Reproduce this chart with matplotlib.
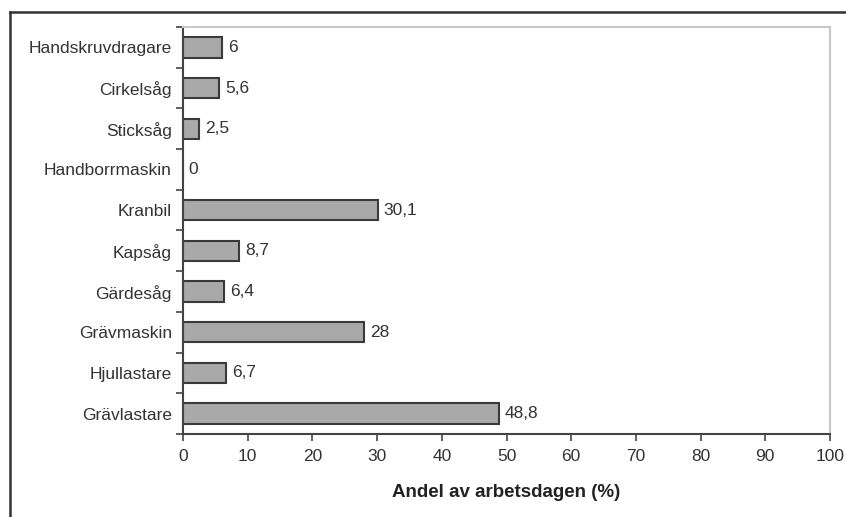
import matplotlib
matplotlib.use("Agg")
import matplotlib.pyplot as plt
from matplotlib.lines import Line2D
import numpy as np

categories = ["Handskruvdragare", "Cirkelsåg", "Sticksåg", "Handborrmaskin", "Kranbil",
              "Kapsåg", "Gärdesåg", "Grävmaskin", "Hjullastare", "Grävlastare"]
values = [6, 5.6, 2.5, 0, 30.1, 8.7, 6.4, 28, 6.7, 48.8]
value_labels = ["6", "5,6", "2,5", "0", "30,1", "8,7", "6,4", "28", "6,7", "48,8"]
xticks = [0, 10, 20, 30, 40, 50, 60, 70, 80, 90, 100]

plt.rcParams['font.family'] = ['Liberation Sans', 'DejaVu Sans']

fig = plt.figure(figsize=(8.46, 5.17), dpi=100)
ax = fig.add_axes([183/846, 1-434/517, (830-183)/846, (434-27)/517])

fs = 12.5
y = np.arange(len(categories))
ax.barh(y, values, height=0.5, color="#a9a9a9", edgecolor="#3a3a3a", linewidth=1.5)
for yi, v, lab in zip(y, values, value_labels):
    ax.text(v + 0.9, yi, lab, va="center", ha="left", fontsize=fs, color="#333333")

ax.set_ylim(len(categories) - 0.5, -0.5)
ax.set_xlim(0, 100)
ax.set_yticks(y)
ax.set_yticklabels(categories, fontsize=fs, color="#333333")
ax.set_yticks(np.arange(-0.5, len(categories), 1), minor=True)
ax.tick_params(axis="y", which="major", length=0, pad=8)
ax.tick_params(axis="y", which="minor", length=5, width=1.2, color="#444444", direction="out")
ax.set_xticks(xticks)
ax.set_xticklabels([str(t) for t in xticks], fontsize=fs, color="#333333")
ax.tick_params(axis="x", length=5, width=1.2, color="#444444", direction="out", pad=6)
ax.set_xlabel("Andel av arbetsdagen (%)", fontsize=13.5, fontweight="bold", color="#222222", labelpad=14)

for s in ["left", "bottom"]:
    ax.spines[s].set_color("#444444")
    ax.spines[s].set_linewidth(1.5)
for s in ["top", "right"]:
    ax.spines[s].set_color("#c8c8c8")
    ax.spines[s].set_linewidth(1.5)

# outer frame lines (left and top)
fig.add_artist(Line2D([10/846, 10/846], [0, 1-12/517], color="#333333", linewidth=1.8, transform=fig.transFigure))
fig.add_artist(Line2D([10/846, 1], [1-12/517, 1-12/517], color="#333333", linewidth=1.8, transform=fig.transFigure))

fig.savefig("out.png", dpi=100)
